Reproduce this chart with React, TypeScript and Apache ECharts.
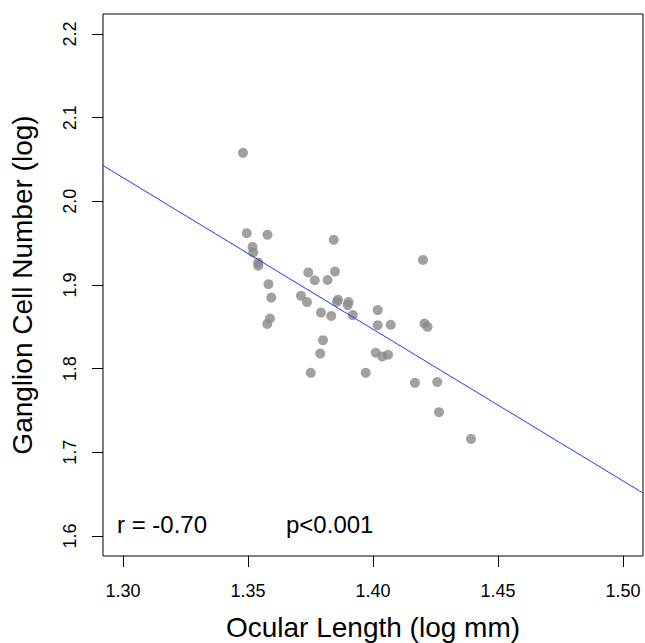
import React, { useEffect, useRef } from "react";
import * as echarts from "echarts";

// Ocular length (log mm) and ganglion cell number (log)
const ocularLength = [
  1.348, 1.3495, 1.3578, 1.3518, 1.3521, 1.3541, 1.3541, 1.3843, 1.42, 1.3582,
  1.3593, 1.3588, 1.3577, 1.3741, 1.3767, 1.3818, 1.3848, 1.3712, 1.3736, 1.386,
  1.3856, 1.3902, 1.3899, 1.3919, 1.3792, 1.3833, 1.38, 1.3789, 1.3751, 1.3971,
  1.4019, 1.4019, 1.4071, 1.4011, 1.4037, 1.406, 1.4206, 1.4218, 1.4168, 1.4257,
  1.4264, 1.4392,
];
const ganglionCells = [
  2.058, 1.962, 1.96, 1.9455, 1.939, 1.927, 1.923, 1.954, 1.93, 1.901,
  1.885, 1.86, 1.8535, 1.915, 1.9057, 1.906, 1.916, 1.887, 1.8796, 1.8825,
  1.88, 1.8796, 1.876, 1.864, 1.867, 1.863, 1.834, 1.818, 1.795, 1.795,
  1.87, 1.852, 1.8525, 1.819, 1.8146, 1.8166, 1.854, 1.85, 1.783, 1.784,
  1.748, 1.716,
];

// Regression line end points
const fitX = [1.292, 1.508];
const fitY = [2.0428, 1.6513];

const xTicks = [1.3, 1.35, 1.4, 1.45, 1.5];
const yTicks = [1.6, 1.7, 1.8, 1.9, 2.0, 2.1, 2.2];

const xTitle = "Ocular Length (log mm)";
const yTitle = "Ganglion Cell Number (log)";
const rText = "r = -0.70";
const pText = "p<0.001";

const FONT = "'Liberation Sans', Arial, Helvetica, sans-serif";

export default function App() {
  const ref = useRef<HTMLDivElement>(null);
  useEffect(() => {
    const chart = echarts.init(ref.current!, null, { renderer: "svg" });
    chart.setOption({
      animation: false,
      backgroundColor: "#ffffff",
      textStyle: { fontFamily: FONT, color: "#000" },
      grid: {
        left: 103,
        top: 14,
        width: 540,
        height: 542,
        outerBoundsMode: "none",
        containLabel: false,
        show: true,
        borderColor: "#000",
        borderWidth: 1,
        backgroundColor: "transparent",
      },
      xAxis: {
        type: "value",
        min: 1.292,
        max: 1.508,
        axisLine: { show: false, onZero: false },
        splitLine: { show: false },
        axisTick: {
          show: true,
          inside: false,
          length: 11,
          customValues: xTicks,
          lineStyle: { color: "#000", width: 1 },
        },
        axisLabel: {
          customValues: xTicks,
          formatter: (v: number) => v.toFixed(2),
          fontSize: 18,
          color: "#000",
          fontFamily: FONT,
          margin: 26,
        },
        name: xTitle,
        nameLocation: "middle",
        nameGap: 57,
        nameTextStyle: { fontSize: 28, color: "#000", fontFamily: FONT },
      },
      yAxis: {
        type: "value",
        min: 1.576,
        max: 2.224,
        axisLine: { show: false, onZero: false },
        splitLine: { show: false },
        axisTick: {
          show: true,
          inside: false,
          length: 11,
          customValues: yTicks,
          lineStyle: { color: "#000", width: 1 },
        },
        axisLabel: {
          customValues: yTicks,
          formatter: (v: number) => v.toFixed(1),
          fontSize: 18,
          color: "#000",
          fontFamily: FONT,
          rotate: 90,
          margin: 24,
        },
        name: yTitle,
        nameLocation: "middle",
        nameGap: 67,
        nameTextStyle: { fontSize: 28, color: "#000", fontFamily: FONT },
      },
      series: [
        {
          type: "scatter",
          data: ocularLength.map((x, i) => [x, ganglionCells[i]]),
          symbol: "circle",
          symbolSize: 10,
          itemStyle: { color: "#8a8a8a" },
          z: 2,
        },
        {
          type: "line",
          data: fitX.map((x, i) => [x, fitY[i]]),
          showSymbol: false,
          lineStyle: { color: "#1a3cff", width: 1 },
          z: 3,
        },
      ],
      graphic: [
        {
          type: "text",
          left: 117,
          top: 512,
          style: { text: rText, fontSize: 24, fill: "#000", fontFamily: FONT },
        },
        {
          type: "text",
          left: 286,
          top: 512,
          style: { text: pText, fontSize: 24, fill: "#000", fontFamily: FONT },
        },
      ],
    });
    return () => chart.dispose();
  }, []);
  return (
    <div
      ref={ref}
      style={{ position: "fixed", left: 0, top: 0, width: 645, height: 643 }}
    />
  );
}
